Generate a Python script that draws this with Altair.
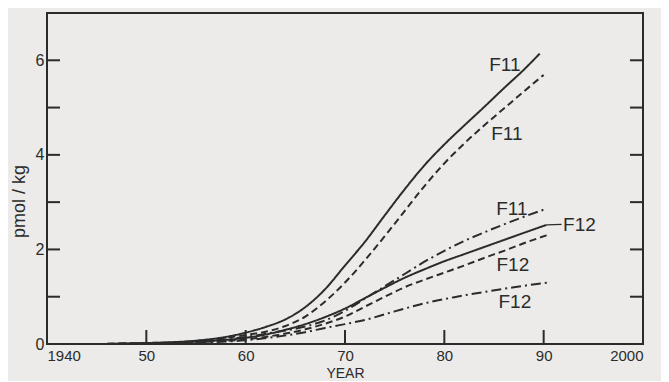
import altair as alt
import pandas as pd

# ---- data ----
f11_solid_year = [1945, 1950, 1955, 1958, 1960, 1962, 1964, 1966, 1968, 1970, 1972, 1974, 1976, 1978, 1980, 1982, 1984, 1986, 1988, 1989.6]
f11_solid_val = [0.0, 0.02, 0.07, 0.15, 0.24, 0.36, 0.52, 0.78, 1.16, 1.66, 2.16, 2.72, 3.27, 3.78, 4.22, 4.62, 5.01, 5.41, 5.8, 6.14]

f11_dash_year = [1945, 1950, 1955, 1958, 1960, 1962, 1964, 1966, 1968, 1970, 1972, 1974, 1976, 1978, 1980, 1982, 1984, 1986, 1988, 1990]
f11_dash_val = [0.0, 0.02, 0.06, 0.13, 0.19, 0.26, 0.38, 0.58, 0.9, 1.3, 1.77, 2.28, 2.81, 3.34, 3.82, 4.24, 4.62, 4.98, 5.34, 5.69]

f11_dd_year = [1945, 1950, 1955, 1960, 1963, 1966, 1968, 1970, 1972, 1974, 1976, 1978, 1980, 1982, 1984, 1986, 1988, 1990]
f11_dd_val = [0.0, 0.01, 0.05, 0.15, 0.25, 0.37, 0.5, 0.7, 0.96, 1.22, 1.48, 1.74, 1.97, 2.18, 2.36, 2.53, 2.69, 2.84]

f12_solid_year = [1945, 1950, 1955, 1960, 1962, 1964, 1966, 1968, 1970, 1972, 1974, 1976, 1978, 1980, 1982, 1984, 1986, 1988, 1990.3]
f12_solid_val = [0.0, 0.01, 0.05, 0.13, 0.2, 0.3, 0.42, 0.57, 0.75, 0.97, 1.19, 1.4, 1.58, 1.75, 1.9, 2.05, 2.2, 2.35, 2.52]

f12_dash_year = [1945, 1955, 1960, 1962, 1964, 1966, 1968, 1970, 1972, 1974, 1976, 1978, 1980, 1982, 1984, 1986, 1988, 1990.3]
f12_dash_val = [0.0, 0.04, 0.1, 0.15, 0.22, 0.31, 0.43, 0.58, 0.79, 1.0, 1.2, 1.36, 1.51, 1.66, 1.82, 1.97, 2.13, 2.3]

f12_dd_year = [1945, 1955, 1960, 1963, 1966, 1968, 1970, 1972, 1975, 1978, 1981, 1984, 1987, 1990.4]
f12_dd_val = [0.0, 0.03, 0.08, 0.15, 0.25, 0.34, 0.42, 0.51, 0.69, 0.86, 0.99, 1.1, 1.2, 1.3]

leader_year = [1990.3, 1991.8]
leader_val = [2.52, 2.53]

label_text = ["F11", "F11", "F11", "F12", "F12", "F12"]
label_year = [1986.1, 1986.3, 1986.8, 1993.6, 1986.9, 1987.1]
label_val = [5.9, 4.45, 2.85, 2.52, 1.68, 0.89]

x_ticks = [1940, 1950, 1960, 1970, 1980, 1990, 2000]
x_tick_labels = ["1940", "50", "60", "70", "80", "90", "2000"]
y_label_ticks = [0, 2, 4, 6]
y_minor_ticks = [1, 2, 3, 4, 5, 6]
x_inner_ticks = [1950, 1960, 1970, 1980, 1990]

W, H = 596, 331
INK = "#2b2b2b"
BG = "#ecebe9"
FONT = "Liberation Sans"

rows = []
for name, style, ys, vs in [
    ("F11 solid", "solid", f11_solid_year, f11_solid_val),
    ("F11 dashed", "dashed", f11_dash_year, f11_dash_val),
    ("F11 dashdot", "dashdot", f11_dd_year, f11_dd_val),
    ("F12 solid", "solid", f12_solid_year, f12_solid_val),
    ("F12 dashed", "dashed", f12_dash_year, f12_dash_val),
    ("F12 dashdot", "dashdot", f12_dd_year, f12_dd_val),
]:
    for y, v in zip(ys, vs):
        rows.append({"series": name, "style": style, "year": y, "value": v})
df = pd.DataFrame(rows)

xscale = alt.Scale(domain=[1940, 2000], nice=False, zero=False)
yscale = alt.Scale(domain=[0, 7], nice=False)

label_expr = " : ".join(
    f"datum.value == {t} ? '{l}'" for t, l in zip(x_ticks, x_tick_labels)
) + " : ''"

lines = alt.Chart(df).mark_line(interpolate="monotone", strokeWidth=2, color=INK).encode(
    x=alt.X("year:Q", scale=xscale,
            axis=alt.Axis(values=x_ticks, labelExpr=label_expr, ticks=False, domain=False, grid=False,
                          labelFontSize=15, labelColor=INK, labelFont=FONT, labelPadding=4,
                          title="YEAR", titleFontSize=14, titleFont=FONT, titleColor=INK,
                          titleFontWeight="normal", titlePadding=3)),
    y=alt.Y("value:Q", scale=yscale,
            axis=alt.Axis(values=y_label_ticks, ticks=False, domain=False, grid=False,
                          labelFontSize=16, labelColor=INK, labelFont=FONT, labelPadding=3,
                          title="pmol / kg", titleFontSize=18, titleFont=FONT, titleColor=INK,
                          titleFontWeight="normal", titleAngle=270, titleX=-28, titleY=188,
                          titleAlign="center", titleBaseline="middle")),
    detail="series:N",
    strokeDash=alt.StrokeDash("style:N", legend=None,
                              scale=alt.Scale(domain=["solid", "dashed", "dashdot"],
                                              range=[[1, 0], [7, 4], [10, 4, 2, 4]])),
)

leader = alt.Chart(pd.DataFrame({"year": leader_year, "value": leader_val})).mark_line(
    strokeWidth=1.2, color=INK).encode(x=alt.X("year:Q", scale=xscale), y=alt.Y("value:Q", scale=yscale))

labels = alt.Chart(pd.DataFrame({"t": label_text, "year": label_year, "value": label_val})).mark_text(
    fontSize=19, font=FONT, color=INK, align="center", baseline="middle").encode(
    x=alt.X("year:Q", scale=xscale), y=alt.Y("value:Q", scale=yscale), text="t:N")

left_ticks = alt.Chart(pd.DataFrame({"v": y_minor_ticks})).mark_rule(color=INK, strokeWidth=2).encode(
    y=alt.Y("v:Q", scale=yscale), x=alt.value(0), x2=alt.value(13))
right_ticks = alt.Chart(pd.DataFrame({"v": y_minor_ticks})).mark_rule(color=INK, strokeWidth=2).encode(
    y=alt.Y("v:Q", scale=yscale), x=alt.value(W - 13), x2=alt.value(W))
bottom_ticks = alt.Chart(pd.DataFrame({"v": x_inner_ticks})).mark_rule(color=INK, strokeWidth=2).encode(
    x=alt.X("v:Q", scale=xscale), y=alt.value(H), y2=alt.value(H - 14))

chart = alt.layer(lines, leader, labels, left_ticks, right_ticks, bottom_ticks).properties(
    width=W, height=H,
    autosize=alt.AutoSizeParams(type="none"),
    padding={"left": 39, "top": 5, "right": 18, "bottom": 37},
    background=BG,
).configure_view(stroke=INK, strokeWidth=2)

chart.save("out.html", embed_options={"renderer": "svg", "actions": False})
